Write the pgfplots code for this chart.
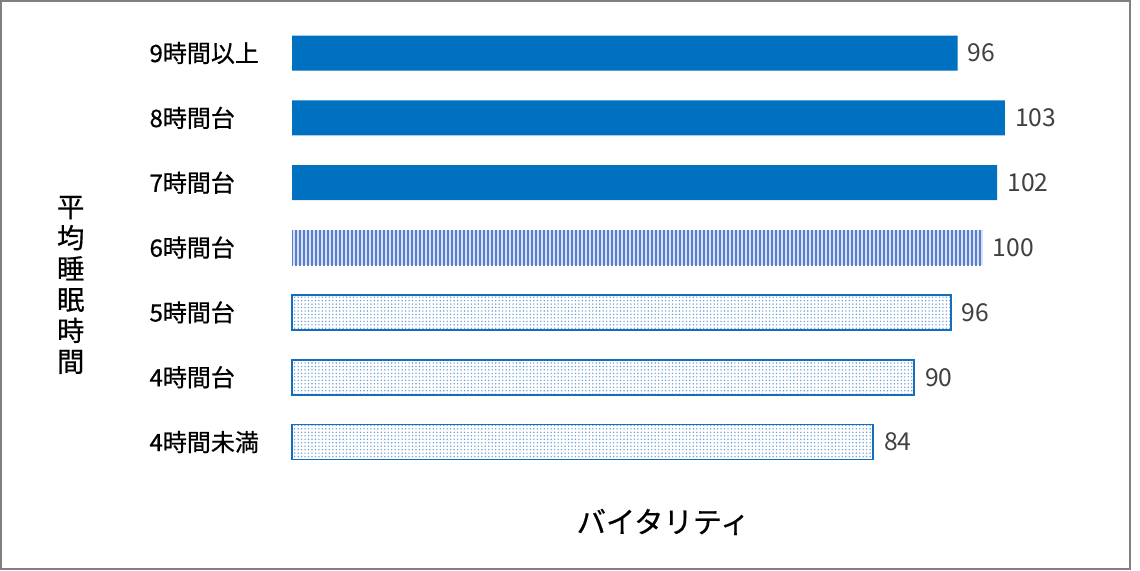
\documentclass[border=0pt]{standalone}
\usepackage{pgfplots}
\pgfplotsset{compat=1.18}
\usepackage{fontspec}
\setmainfont{Noto Sans CJK JP}
\newfontfamily\labelfont{Noto Sans CJK JP}[FakeBold=0.6]
\usetikzlibrary{patterns.meta}
\definecolor{solidblue}{RGB}{0,112,192}
\definecolor{stripeblue}{RGB}{88,126,206}
\definecolor{stripebg}{RGB}{214,225,245}
\definecolor{dotblue}{RGB}{110,160,215}
\definecolor{edgeblue}{RGB}{20,110,190}
\definecolor{valgray}{RGB}{64,64,64}
\definecolor{framegray}{RGB}{128,128,128}
\begin{document}
\begin{tikzpicture}
\path (0,0) rectangle (855pt,428.25pt);
\draw[framegray, line width=1.5pt] (0.75pt,1.5pt) rectangle (847.5pt,427.5pt);
\begin{axis}[
  at = {(219pt,72.4pt)},
  anchor = south west,
  scale only axis,
  width = 622.8pt,
  height = 340.4pt,
  xbar,
  bar width = 26.25pt,
  bar shift = 0pt,
  xmin = 0, xmax = 120,
  ymin = -0.5, ymax = 6.5,
  xtick = \empty,
  ytick = {0,...,6},
  yticklabels = {4時間未満,4時間台,5時間台,6時間台,7時間台,8時間台,9時間以上},
  yticklabel style = {anchor=west, inner sep=0pt, xshift=-106.5pt+3.75pt, font=\labelfont\fontsize{18}{18}\selectfont},
  axis line style = {draw=none},
  tick style = {draw=none},
  clip = false,
  xlabel = {バイタリティ},
  every axis x label/.style = {at={(axis description cs:0.447,-0.1047)}, anchor=center, font=\labelfont\fontsize{22}{22}\selectfont},
  ylabel = {平\\均\\睡\\眠\\時\\間},
  every axis y label/.style = {at={(axis description cs:-0.2665,0.4176)}, anchor=center, align=center, font=\labelfont\fontsize{20.5}{23.2}\selectfont},
  nodes near coords,
  point meta = explicit symbolic,
  every node near coord/.append style = {anchor=west, inner sep=0pt, xshift=7.5pt, color=valgray, font=\fontsize{18.5}{18.5}\selectfont},
]
% solid bars: 7h, 8h, 9h+
\addplot [draw=none, fill=solidblue] coordinates {
(101.9,4) [102]
(103.0,5) [103]
(96.2,6) [96]
};
% striped bar: 6h
\addplot [draw=none, fill=stripebg, postaction={pattern={Lines[angle=90,distance=3pt,line width=1.2pt]}, pattern color=stripeblue}] coordinates {
(99.8,3) [100]
};
% dotted bars: <4h, 4h, 5h
\addplot [draw=edgeblue, line width=1.4pt, fill=white, postaction={pattern={Dots[distance=2.6pt,radius=0.6pt]}, pattern color=dotblue}] coordinates {
(84.0,0) [84]
(89.9,1) [90]
(95.2,2) [96]
};
\end{axis}
\end{tikzpicture}
\end{document}
